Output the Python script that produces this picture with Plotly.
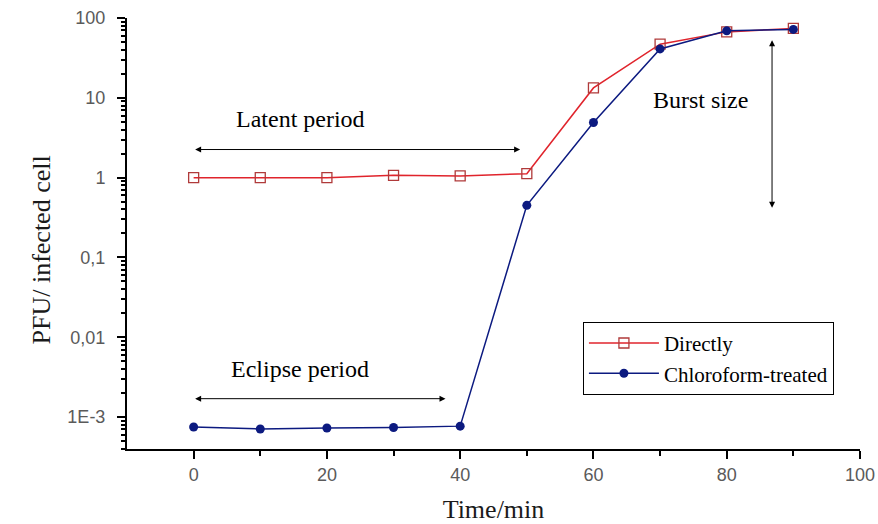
import numpy as np
import plotly.graph_objects as go

# Time after infection (min)
time_min = [0, 10, 20, 30, 40, 50, 60, 70, 80, 90]

# PFU per infected cell
directly = [1.0, 1.0, 1.0, 1.07, 1.05, 1.12, 13.3, 47, 67, 74]
chloroform_treated = [7.5e-4, 7.1e-4, 7.3e-4, 7.4e-4, 7.7e-4, 0.45, 4.9, 41, 69, 72]

y_tick_vals = [1e-3, 1e-2, 1e-1, 1, 10, 100]
y_tick_text = ["1E-3", "0,01", "0,1", "1", "10", "100"]
x_tick_vals = [0, 20, 40, 60, 80, 100]

# Period markers: (x_start, x_end, y) and burst size (x, y_low, y_high)
latent_arrow = (0, 49, 2.25)
eclipse_arrow = (0, 37.8, 1.7e-3)
burst_arrow = (86.8, 0.42, 55)

serif = "Liberation Serif, Times New Roman, serif"
sans = "Liberation Sans, Arial, sans-serif"

fig = go.Figure()
fig.add_trace(go.Scatter(
    x=time_min, y=directly, name="Directly", mode="lines+markers",
    line=dict(color="#e0242c", width=1.5),
    marker=dict(symbol="square-open", size=10, color="#b03a3a", line=dict(width=1.3)),
))
fig.add_trace(go.Scatter(
    x=time_min, y=chloroform_treated, name="Chloroform-treated", mode="lines+markers",
    line=dict(color="#0c1a80", width=1.5),
    marker=dict(symbol="circle", size=9, color="#0c1a80"),
))

minor_y = [m * 10.0 ** e for e in range(-4, 2) for m in range(2, 10)]
minor_y = [v for v in minor_y if 10 ** -3.4 <= v <= 100]

tick_font = dict(family=sans, size=18, color="#5a5a5a")

fig.update_xaxes(
    range=[-10, 100], showline=True, linecolor="black", linewidth=2,
    ticks="outside", ticklen=8, tickwidth=2, tickcolor="black",
    tickvals=x_tick_vals, showgrid=False, zeroline=False, automargin=False,
    tickfont=tick_font, ticklabelstandoff=0,
    minor=dict(tickvals=[10, 30, 50, 70, 90], ticks="outside", ticklen=5,
               tickwidth=2, tickcolor="black", showgrid=False),
    title=dict(text="Time/min", font=dict(family=serif, size=26, color="#1a1a1a"), standoff=20),
)
fig.update_yaxes(
    type="log", range=[-3.4, 2], showline=True, linecolor="black", linewidth=2,
    ticks="outside", ticklen=8, tickwidth=2, tickcolor="black",
    tickvals=y_tick_vals, ticktext=y_tick_text, showgrid=False, zeroline=False,
    automargin=False, tickfont=tick_font, ticklabelstandoff=8,
    minor=dict(tickvals=minor_y, ticks="outside", ticklen=4, tickwidth=1.5,
               tickcolor="black", showgrid=False),
)

# y-axis title, set slightly below the plot's vertical centre
fig.add_annotation(text="PFU/ infected cell", textangle=-90, showarrow=False,
                   xref="paper", yref="paper", x=-0.139, y=0.462,
                   font=dict(family=serif, size=26, color="#1a1a1a"))

arrow_style = dict(showarrow=True, arrowhead=2, startarrowhead=2, arrowside="end+start",
                   arrowsize=1.2, arrowwidth=1, arrowcolor="black",
                   xref="x", yref="y", axref="x", ayref="y", text="")

x0, x1, yv = latent_arrow
fig.add_annotation(x=x1, y=np.log10(yv), ax=x0, ay=np.log10(yv), **arrow_style)
x0, x1, yv = eclipse_arrow
fig.add_annotation(x=x1, y=np.log10(yv), ax=x0, ay=np.log10(yv), **arrow_style)
xb, ylo, yhi = burst_arrow
fig.add_annotation(x=xb, y=np.log10(ylo), ax=xb, ay=np.log10(yhi), **arrow_style)

label_font = dict(family=serif, size=24, color="black")
fig.add_annotation(x=16, y=np.log10(5.4), text="Latent period", showarrow=False,
                   xref="x", yref="y", font=label_font)
fig.add_annotation(x=16, y=np.log10(4.0e-3), text="Eclipse period", showarrow=False,
                   xref="x", yref="y", font=label_font)
fig.add_annotation(x=76, y=np.log10(9.5), text="Burst size", showarrow=False,
                   xref="x", yref="y", font=label_font)

fig.update_layout(
    width=878, height=524,
    margin=dict(l=127, r=18, t=18, b=75),
    paper_bgcolor="white", plot_bgcolor="white",
    legend=dict(x=0.622, y=0.295, xanchor="left", yanchor="top",
                bordercolor="black", borderwidth=1, bgcolor="white",
                font=dict(family=serif, size=21, color="black"),
                tracegroupgap=0, itemwidth=70),
    showlegend=True,
)

fig.write_html("out.html")
